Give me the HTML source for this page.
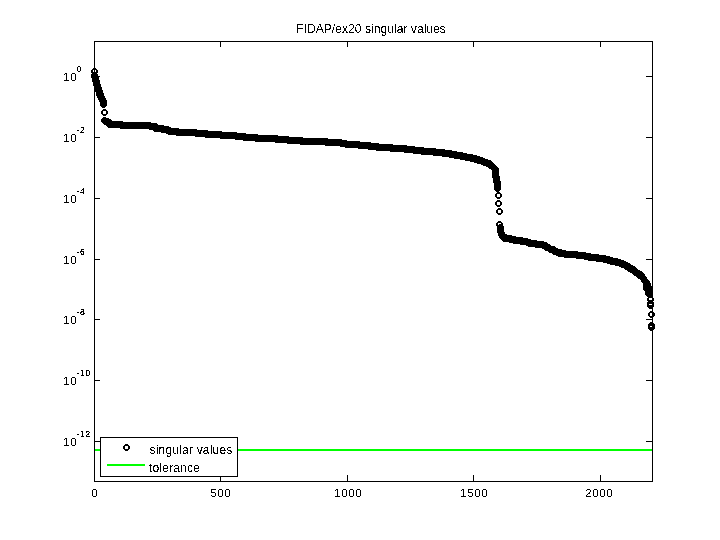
<!DOCTYPE html>
<html><head><meta charset="utf-8"><title>FIDAP/ex20 singular values</title><style>html,body{margin:0;padding:0;background:#fff;}svg{display:block;}</style></head><body>
<svg width="720" height="540" viewBox="0 0 720 540" shape-rendering="crispEdges">
<rect width="720" height="540" fill="#fff"/>
<defs><filter id="crisp" x="0" y="0" width="1" height="1" color-interpolation-filters="sRGB"><feComponentTransfer><feFuncA type="discrete" tableValues="0 1"/></feComponentTransfer></filter><filter id="crisp2" x="0" y="0" width="1" height="1" color-interpolation-filters="sRGB"><feComponentTransfer><feFuncA type="discrete" tableValues="0 0 0 0 1 1 1 1 1 1"/></feComponentTransfer></filter></defs>
<rect x="94" y="449" width="559" height="2" fill="#00ff00"/>
<path d="M93 68h3v1h-3zM92 69h5v1h-5zM91 70h2v1h-2zM96 70h2v1h-2zM91 71h2v1h-2zM96 71h2v1h-2zM91 72h7v1h-7zM92 73h5v1h-5zM91 74h7v1h-7zM91 75h7v1h-7zM91 76h8v1h-8zM91 77h8v1h-8zM92 78h7v1h-7zM92 79h7v1h-7zM92 80h8v1h-8zM92 81h8v1h-8zM93 82h7v1h-7zM93 83h7v1h-7zM93 84h8v1h-8zM93 85h8v1h-8zM94 86h7v1h-7zM94 87h8v1h-8zM94 88h8v1h-8zM95 89h7v1h-7zM95 90h8v1h-8zM95 91h8v1h-8zM96 92h7v1h-7zM96 93h8v1h-8zM96 94h8v1h-8zM96 95h8v1h-8zM97 96h8v1h-8zM97 97h8v1h-8zM98 98h8v1h-8zM98 99h8v1h-8zM99 100h8v1h-8zM99 101h8v1h-8zM100 102h7v1h-7zM100 103h7v1h-7zM100 104h7v1h-7zM100 105h7v1h-7zM101 106h5v1h-5zM102 107h3v1h-3zM103 109h3v1h-3zM102 110h5v1h-5zM101 111h2v1h-2zM106 111h2v1h-2zM101 112h2v1h-2zM106 112h2v1h-2zM101 113h2v1h-2zM106 113h2v1h-2zM102 114h5v1h-5zM103 115h3v1h-3zM103 117h3v1h-3zM102 118h7v1h-7zM101 119h10v1h-10zM101 120h11v1h-11zM101 121h22v1h-22zM102 122h49v1h-49zM103 123h54v1h-54zM104 124h54v1h-54zM106 125h58v1h-58zM107 126h62v1h-62zM108 127h63v1h-63zM120 128h59v1h-59zM149 129h48v1h-48zM153 130h55v1h-55zM154 131h68v1h-68zM161 132h76v1h-76zM166 133h80v1h-80zM168 134h90v1h-90zM176 135h102v1h-102zM195 136h94v1h-94zM205 137h98v1h-98zM220 138h108v1h-108zM235 139h107v1h-107zM243 140h104v1h-104zM255 141h105v1h-105zM275 142h96v1h-96zM287 143h92v1h-92zM300 144h93v1h-93zM325 145h82v1h-82zM340 146h75v1h-75zM345 147h79v1h-79zM358 148h78v1h-78zM368 149h77v1h-77zM376 150h76v1h-76zM390 151h67v1h-67zM404 152h59v1h-59zM413 153h54v1h-54zM421 154h52v1h-52zM433 155h44v1h-44zM442 156h38v1h-38zM449 157h34v1h-34zM454 158h31v1h-31zM460 159h28v1h-28zM465 160h26v1h-26zM470 161h22v1h-22zM474 162h19v1h-19zM477 163h17v1h-17zM481 164h14v1h-14zM483 165h13v1h-13zM486 166h11v1h-11zM488 167h10v1h-10zM489 168h10v1h-10zM491 169h8v1h-8zM492 170h7v1h-7zM492 171h7v1h-7zM492 172h7v1h-7zM492 173h7v1h-7zM492 174h7v1h-7zM492 175h7v1h-7zM492 176h8v1h-8zM492 177h8v1h-8zM493 178h7v1h-7zM493 179h7v1h-7zM493 180h7v1h-7zM493 181h8v1h-8zM493 182h8v1h-8zM494 183h7v1h-7zM494 184h7v1h-7zM494 185h7v1h-7zM494 186h7v1h-7zM494 187h7v1h-7zM494 188h7v1h-7zM494 189h7v1h-7zM495 190h5v1h-5zM496 191h3v1h-3zM497 192h3v1h-3zM496 193h5v1h-5zM495 194h2v1h-2zM500 194h2v1h-2zM495 195h2v1h-2zM500 195h2v1h-2zM495 196h2v1h-2zM500 196h2v1h-2zM496 197h5v1h-5zM497 198h3v1h-3zM497 200h3v1h-3zM496 201h5v1h-5zM495 202h2v1h-2zM500 202h2v1h-2zM495 203h2v1h-2zM500 203h2v1h-2zM495 204h2v1h-2zM500 204h2v1h-2zM496 205h5v1h-5zM497 206h3v1h-3zM498 208h3v1h-3zM497 209h5v1h-5zM496 210h2v1h-2zM501 210h2v1h-2zM496 211h2v1h-2zM501 211h2v1h-2zM496 212h2v1h-2zM501 212h2v1h-2zM497 213h5v1h-5zM498 214h3v1h-3zM498 221h3v1h-3zM497 222h5v1h-5zM496 223h2v1h-2zM501 223h2v1h-2zM496 224h2v1h-2zM499 224h4v1h-4zM496 225h7v1h-7zM497 226h7v1h-7zM497 227h7v1h-7zM497 228h7v1h-7zM497 229h7v1h-7zM497 230h7v1h-7zM497 231h7v1h-7zM497 232h8v1h-8zM498 233h7v1h-7zM498 234h9v1h-9zM498 235h14v1h-14zM499 236h17v1h-17zM499 237h24v1h-24zM500 238h28v1h-28zM501 239h30v1h-30zM502 240h35v1h-35zM503 241h41v1h-41zM509 242h38v1h-38zM513 243h35v1h-35zM520 244h30v1h-30zM526 245h25v1h-25zM528 246h27v1h-27zM535 247h21v1h-21zM542 248h16v1h-16zM544 249h18v1h-18zM545 250h21v1h-21zM548 251h30v1h-30zM549 252h37v1h-37zM552 253h39v1h-39zM553 254h46v1h-46zM556 255h50v1h-50zM558 256h52v1h-52zM564 257h49v1h-49zM576 258h42v1h-42zM584 259h37v1h-37zM588 260h36v1h-36zM596 261h30v1h-30zM603 262h25v1h-25zM607 263h23v1h-23zM610 264h21v1h-21zM615 265h18v1h-18zM619 266h16v1h-16zM621 267h15v1h-15zM624 268h13v1h-13zM625 269h13v1h-13zM627 270h13v1h-13zM628 271h14v1h-14zM630 272h13v1h-13zM632 273h12v1h-12zM633 274h12v1h-12zM634 275h11v1h-11zM636 276h10v1h-10zM637 277h10v1h-10zM638 278h9v1h-9zM640 279h8v1h-8zM641 280h8v1h-8zM641 281h9v1h-9zM642 282h8v1h-8zM643 283h8v1h-8zM643 284h8v1h-8zM643 285h8v1h-8zM643 286h9v1h-9zM643 287h9v1h-9zM643 288h9v1h-9zM643 289h9v1h-9zM644 290h8v1h-8zM645 291h7v1h-7zM645 292h7v1h-7zM645 293h8v1h-8zM645 294h8v1h-8zM646 295h7v1h-7zM647 296h5v1h-5zM648 297h5v1h-5zM647 298h2v1h-2zM652 298h2v1h-2zM647 299h2v1h-2zM652 299h2v1h-2zM647 300h7v1h-7zM648 301h5v1h-5zM647 302h7v1h-7zM647 303h7v1h-7zM647 304h2v1h-2zM652 304h2v1h-2zM647 305h7v1h-7zM647 306h7v1h-7zM648 307h5v1h-5zM649 308h3v1h-3zM650 311h3v1h-3zM649 312h5v1h-5zM648 313h2v1h-2zM653 313h2v1h-2zM648 314h2v1h-2zM653 314h2v1h-2zM648 315h2v1h-2zM653 315h2v1h-2zM649 316h5v1h-5zM650 317h3v1h-3zM650 322h3v1h-3zM649 323h5v1h-5zM648 324h7v1h-7zM648 325h7v1h-7zM648 326h2v1h-2zM653 326h2v1h-2zM648 327h7v1h-7zM648 328h7v1h-7zM649 329h5v1h-5zM650 330h3v1h-3z" fill="#000"/>
<rect x="94" y="41" width="1" height="6" fill="#000"/>
<rect x="94" y="475" width="1" height="7" fill="#000"/>
<rect x="220" y="41" width="1" height="6" fill="#000"/>
<rect x="220" y="475" width="1" height="7" fill="#000"/>
<rect x="347" y="41" width="1" height="6" fill="#000"/>
<rect x="347" y="475" width="1" height="7" fill="#000"/>
<rect x="473" y="41" width="1" height="6" fill="#000"/>
<rect x="473" y="475" width="1" height="7" fill="#000"/>
<rect x="600" y="41" width="1" height="6" fill="#000"/>
<rect x="600" y="475" width="1" height="7" fill="#000"/>
<rect x="94" y="76" width="6" height="1" fill="#000"/>
<rect x="646" y="76" width="7" height="1" fill="#000"/>
<rect x="94" y="137" width="6" height="1" fill="#000"/>
<rect x="646" y="137" width="7" height="1" fill="#000"/>
<rect x="94" y="198" width="6" height="1" fill="#000"/>
<rect x="646" y="198" width="7" height="1" fill="#000"/>
<rect x="94" y="259" width="6" height="1" fill="#000"/>
<rect x="646" y="259" width="7" height="1" fill="#000"/>
<rect x="94" y="319" width="6" height="1" fill="#000"/>
<rect x="646" y="319" width="7" height="1" fill="#000"/>
<rect x="94" y="380" width="6" height="1" fill="#000"/>
<rect x="646" y="380" width="7" height="1" fill="#000"/>
<rect x="94" y="441" width="6" height="1" fill="#000"/>
<rect x="646" y="441" width="7" height="1" fill="#000"/>
<rect x="94" y="41" width="559" height="1" fill="#000"/>
<rect x="94" y="481" width="559" height="1" fill="#000"/>
<rect x="94" y="41" width="1" height="441" fill="#000"/>
<rect x="652" y="41" width="1" height="441" fill="#000"/>
<rect x="100" y="437" width="138" height="40" fill="#fff"/>
<path d="M100 437h138v1h-138zM100 476h138v1h-138zM100 437h1v40h-1zM237 437h1v40h-1z" fill="#000"/>
<path d="M125 444h3v1h-3zM124 445h5v1h-5zM123 446h2v1h-2zM128 446h2v1h-2zM123 447h2v1h-2zM128 447h2v1h-2zM123 448h2v1h-2zM128 448h2v1h-2zM124 449h5v1h-5zM125 450h3v1h-3z" fill="#000"/>
<rect x="107" y="464" width="38" height="2" fill="#00ff00"/>
<g filter="url(#crisp)">
<text x="371" y="33" font-family="Liberation Sans, Arial, sans-serif" font-size="12.15" text-anchor="middle" fill="#000">FIDAP/ex20 singular values</text>
<text x="149.5" y="454" font-family="Liberation Sans, Arial, sans-serif" font-size="12" letter-spacing="0.2" fill="#000">singular values</text>
<text x="149" y="472" font-family="Liberation Sans, Arial, sans-serif" font-size="12" letter-spacing="0.2" fill="#000">tolerance</text>
<text x="91.3" y="497" font-family="Liberation Sans, Arial, sans-serif" font-size="11.5" letter-spacing="0.6" fill="#000">0</text>
<text x="210.3" y="497" font-family="Liberation Sans, Arial, sans-serif" font-size="11.5" letter-spacing="0.6" fill="#000">500</text>
<text x="334.3" y="497" font-family="Liberation Sans, Arial, sans-serif" font-size="11.5" letter-spacing="0.6" fill="#000">1000</text>
<text x="460.3" y="497" font-family="Liberation Sans, Arial, sans-serif" font-size="11.5" letter-spacing="0.6" fill="#000">1500</text>
<text x="585.3" y="497" font-family="Liberation Sans, Arial, sans-serif" font-size="11.5" letter-spacing="0.6" fill="#000">2000</text>
<text x="63.3" y="81" font-family="Liberation Sans, Arial, sans-serif" font-size="11.5" letter-spacing="0.6" fill="#000">10</text>
<text x="63.3" y="142" font-family="Liberation Sans, Arial, sans-serif" font-size="11.5" letter-spacing="0.6" fill="#000">10</text>
<text x="63.3" y="203" font-family="Liberation Sans, Arial, sans-serif" font-size="11.5" letter-spacing="0.6" fill="#000">10</text>
<text x="63.3" y="264" font-family="Liberation Sans, Arial, sans-serif" font-size="11.5" letter-spacing="0.6" fill="#000">10</text>
<text x="63.3" y="324" font-family="Liberation Sans, Arial, sans-serif" font-size="11.5" letter-spacing="0.6" fill="#000">10</text>
<text x="63.3" y="385" font-family="Liberation Sans, Arial, sans-serif" font-size="11.5" letter-spacing="0.6" fill="#000">10</text>
<text x="63.3" y="446" font-family="Liberation Sans, Arial, sans-serif" font-size="11.5" letter-spacing="0.6" fill="#000">10</text>
</g>
<g filter="url(#crisp2)"><text x="76.5" y="72" font-family="Liberation Sans, Arial, sans-serif" font-size="8.8" letter-spacing="0.5" fill="#000">0</text><text x="76.5" y="133" font-family="Liberation Sans, Arial, sans-serif" font-size="8.8" letter-spacing="0.5" fill="#000">-2</text><text x="76.5" y="194" font-family="Liberation Sans, Arial, sans-serif" font-size="8.8" letter-spacing="0.5" fill="#000">-4</text><text x="76.5" y="255" font-family="Liberation Sans, Arial, sans-serif" font-size="8.8" letter-spacing="0.5" fill="#000">-6</text><text x="76.5" y="315" font-family="Liberation Sans, Arial, sans-serif" font-size="8.8" letter-spacing="0.5" fill="#000">-8</text><text x="76.5" y="376" font-family="Liberation Sans, Arial, sans-serif" font-size="8.8" letter-spacing="0.5" fill="#000">-10</text><text x="76.5" y="437" font-family="Liberation Sans, Arial, sans-serif" font-size="8.8" letter-spacing="0.5" fill="#000">-12</text></g>
</svg>
</body></html>
